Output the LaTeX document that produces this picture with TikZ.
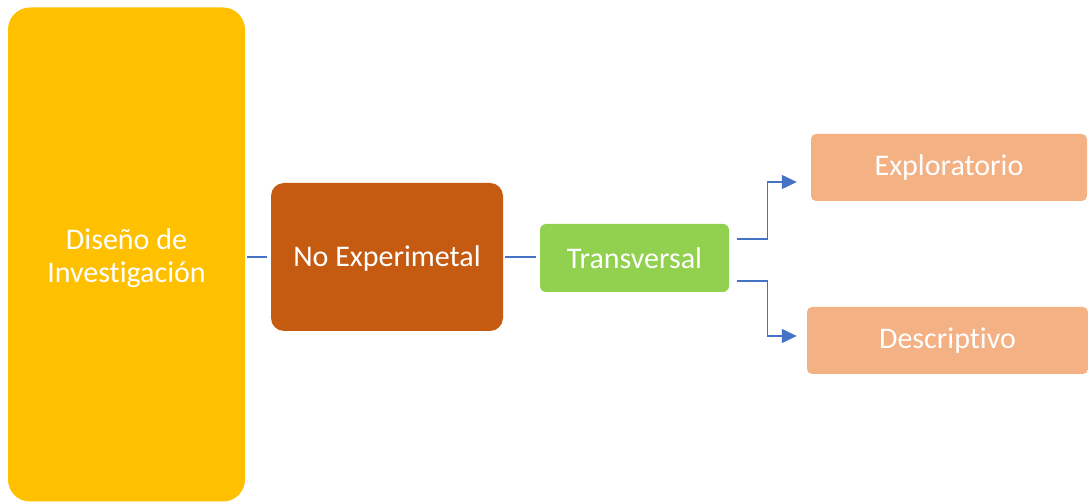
\documentclass[tikz,border=0pt]{standalone}
\usepackage{fontspec}
\setmainfont{Carlito}[Ligatures=NoCommon]
\usetikzlibrary{arrows.meta}
\definecolor{cyel}{HTML}{FFC000}
\definecolor{cbrown}{HTML}{C55A11}
\definecolor{cgreen}{HTML}{92D050}
\definecolor{csalmon}{HTML}{F4B183}
\definecolor{cblue}{HTML}{4472C4}
\tikzset{
  box/.style={rectangle, draw=none, text=white, align=center, inner sep=0pt, font=\fontsize{30}{33}\selectfont},
  conn/.style={draw=cblue, line width=1.3pt},
  arr/.style={conn, -{Triangle[length=15pt,width=14pt]}}
}
\begin{document}
\begin{tikzpicture}[x=1pt,y=-1pt]
\useasboundingbox (0,0) rectangle (1088,502);
\node[box, fill=cyel, rounded corners=22pt, minimum width=237pt, minimum height=494pt,
  label={[box, yshift=-4pt]center:{Diseño de\\Investigación}}] (yel) at (126.5,254.5) {};
\node[box, fill=cbrown, rounded corners=13pt, minimum width=232pt, minimum height=148pt,
  label={[box, yshift=-2pt]center:No Experimetal}] (nex) at (387,257) {};
\node[box, fill=cgreen, rounded corners=6pt, minimum width=189pt, minimum height=68pt] (tra) at (634.5,258) {Transversal};
\node[box, fill=csalmon, rounded corners=5pt, minimum width=276pt, minimum height=67pt] (exp) at (949,167.5) {Exploratorio};
\node[box, fill=csalmon, rounded corners=5pt, minimum width=281pt, minimum height=67pt] (des) at (947.5,340.5) {Descriptivo};
\draw[conn, line width=1.8pt] ([xshift=2pt]yel.east |- nex.west) -- ([xshift=-4pt]nex.west);
\draw[conn, line width=1.8pt] ([xshift=2pt]nex.east) -- ([xshift=-4pt]nex.east -| tra.west);
\draw[arr] ([xshift=8pt,yshift=19pt]tra.east) -- ++(30,0) |- ([xshift=-14pt,yshift=-14.5pt]exp.west);
\draw[arr] ([xshift=8pt,yshift=-23pt]tra.east) -- ++(30,0) |- ([xshift=-10pt,yshift=4.5pt]des.west);
\end{tikzpicture}
\end{document}
